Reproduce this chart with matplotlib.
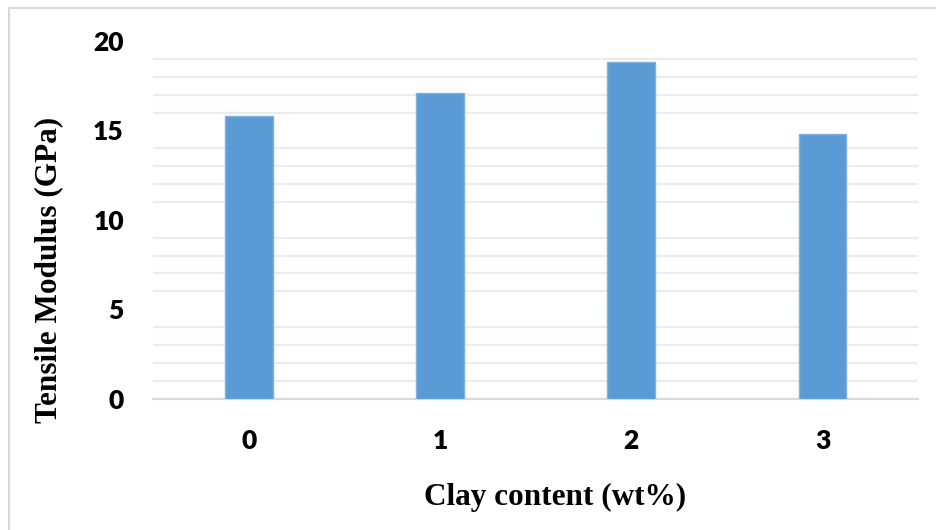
import matplotlib
matplotlib.use("Agg")
import matplotlib.pyplot as plt
from matplotlib.patches import Rectangle
import numpy as np

# tensile modulus vs clay loading
clay_content = ["0", "1", "2", "3"]
modulus_gpa = [15.8, 17.1, 18.8, 14.8]

y_major = [0, 5, 10, 15, 20]
y_minor = [v for v in range(1, 20) if v % 5 != 0]

fig = plt.figure(figsize=(9.36, 5.30), dpi=100)
ax = fig.add_axes([0.1635, 0.2481, 0.8175, 0.6745])

x = np.arange(len(clay_content))
ax.bar(x, modulus_gpa, width=0.25, color="#5b9bd5", edgecolor="#7fb1e0",
       linewidth=1.0, zorder=3)

ax.set_xlim(-0.5, len(clay_content) - 0.5)
ax.set_ylim(0, 20)
ax.set_xticks(x)
ax.set_xticklabels(clay_content)
ax.set_yticks(y_major)
ax.set_yticks(y_minor, minor=True)
ax.grid(which="minor", axis="y", color="#ececec", linewidth=1.6, zorder=0)

for s in ["top", "right", "left"]:
    ax.spines[s].set_visible(False)
ax.spines["bottom"].set_color("#d9d9d9")
ax.spines["bottom"].set_linewidth(1.6)

ax.tick_params(axis="both", which="both", length=0)
ax.tick_params(axis="y", pad=21)
ax.tick_params(axis="x", pad=22)
for lab in ax.get_yticklabels() + ax.get_xticklabels():
    lab.set_fontfamily("Lato")
    lab.set_fontweight("heavy")
    lab.set_fontsize(19)

fig.text(555 / 936, 1 - 497 / 530, "Clay content (wt%)", ha="center", va="center",
         fontfamily="Liberation Serif", fontweight="bold", fontsize=22.5)
fig.text(49 / 936, 1 - 270 / 530, "Tensile Modulus (GPa)", ha="center", va="center",
         rotation=90, fontfamily="Liberation Serif", fontweight="bold", fontsize=22.5)

# outer frame
fig.add_artist(Rectangle((9 / 936, -0.1), 1.2, 1.1 - 8 / 530,
                         transform=fig.transFigure, fill=False,
                         edgecolor="#d9d9d9", linewidth=1.5))

fig.savefig("out.png", dpi=100)
